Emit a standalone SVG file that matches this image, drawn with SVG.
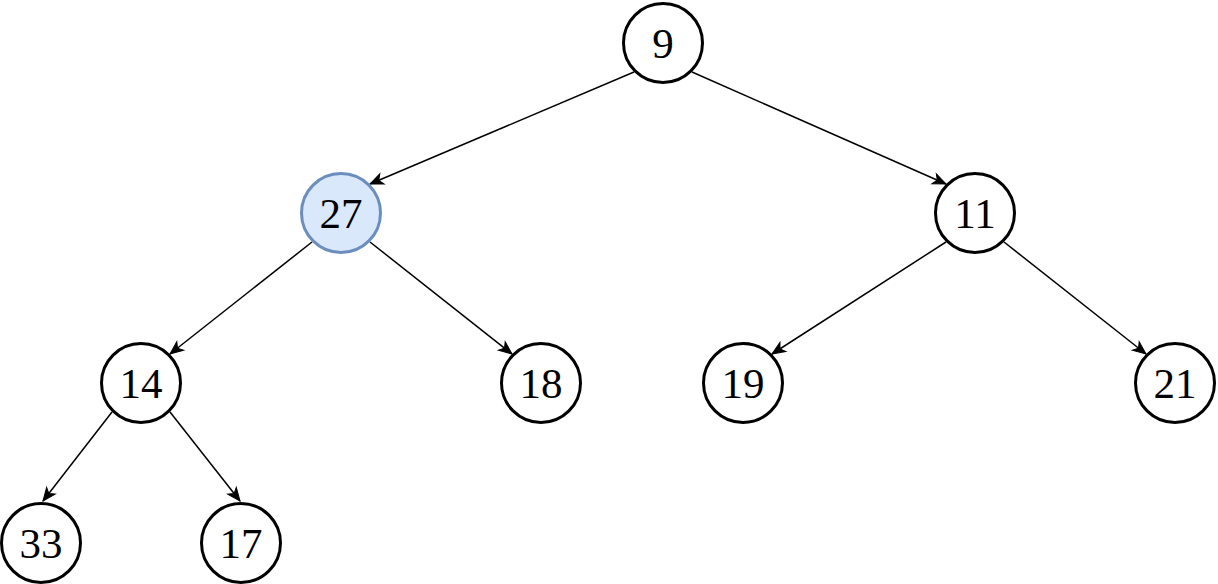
<svg xmlns="http://www.w3.org/2000/svg" width="1218" height="584" viewBox="0 0 1218 584">
  <style>
    .node circle { fill: #ffffff; stroke: #000000; stroke-width: 3; }
    .node.hl circle { fill: #dae8fc; stroke: #6c8ebf; }
    .node text { font-family: "Liberation Serif", "Times New Roman", serif; font-size: 43px; fill: #000000; text-anchor: middle; }
    .edge { fill: none; stroke: #000000; stroke-width: 1.5; marker-end: url(#arrow); }
  </style>
  <defs>
    <marker id="arrow" markerUnits="userSpaceOnUse" markerWidth="16" markerHeight="14" refX="13" refY="5.5" orient="auto" overflow="visible">
      <path d="M0,0 L13,5.5 L0,11 L3.5,5.5 Z" fill="#000000" stroke="#000000" stroke-width="1"/>
    </marker>
  </defs>
  <rect width="1218" height="584" fill="#ffffff"/>
  <g id="connectors">
    <line class="edge" x1="634" y1="72" x2="370" y2="184"/>
    <line class="edge" x1="692" y1="72" x2="946" y2="184"/>
    <line class="edge" x1="312" y1="242" x2="170" y2="354"/>
    <line class="edge" x1="370" y1="242" x2="512" y2="354"/>
    <line class="edge" x1="946" y1="242" x2="772" y2="354"/>
    <line class="edge" x1="1004" y1="242" x2="1146" y2="354"/>
    <line class="edge" x1="112" y1="412" x2="43" y2="501"/>
    <line class="edge" x1="170" y1="412" x2="240" y2="501"/>
  </g>
  <g id="node-9" class="node"><circle cx="663" cy="43" r="39.5"/><text x="663" y="58">9</text></g>
  <g id="node-27" class="node hl"><circle cx="341" cy="213" r="39.5"/><text x="341" y="228">27</text></g>
  <g id="node-11" class="node"><circle cx="975" cy="213" r="39.5"/><text x="975" y="228">11</text></g>
  <g id="node-14" class="node"><circle cx="141" cy="383" r="39.5"/><text x="141" y="398">14</text></g>
  <g id="node-18" class="node"><circle cx="541" cy="383" r="39.5"/><text x="541" y="398">18</text></g>
  <g id="node-19" class="node"><circle cx="743" cy="383" r="39.5"/><text x="743" y="398">19</text></g>
  <g id="node-21" class="node"><circle cx="1175" cy="383" r="39.5"/><text x="1175" y="398">21</text></g>
  <g id="node-33" class="node"><circle cx="41" cy="543" r="39.5"/><text x="41" y="558">33</text></g>
  <g id="node-17" class="node"><circle cx="241" cy="543" r="39.5"/><text x="241" y="558">17</text></g>
</svg>
